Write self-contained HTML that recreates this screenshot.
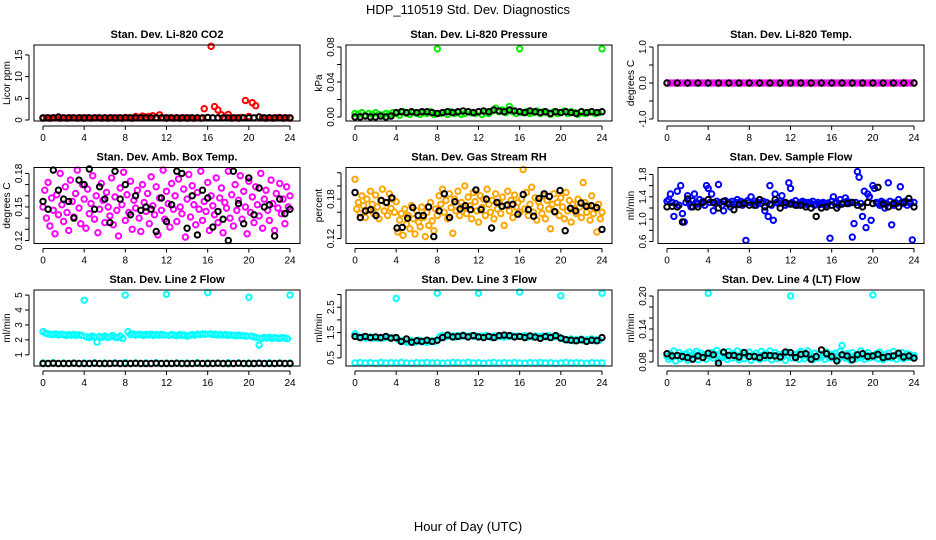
<!DOCTYPE html>
<html><head><meta charset="utf-8"><style>
html,body{margin:0;padding:0;background:#fff;}
svg{display:block;font-family:"Liberation Sans",Arial,sans-serif;}
</style></head><body>
<svg id="chart" width="936" height="540" viewBox="0 0 936 540" xmlns="http://www.w3.org/2000/svg">
<text x="468" y="14" text-anchor="middle" font-size="13">HDP_110519  Std. Dev. Diagnostics</text>
<text x="468" y="531" text-anchor="middle" font-size="13">Hour of Day (UTC)</text>
</svg>
<script>
const xTicks=[0,4,8,12,16,20,24];
const co2Red=[0.4,0.5,0.4,0.5,0.5,0.4,0.5,0.4,0.5,0.5,0.4,0.5,0.4,0.5,0.4,0.5,0.5,0.4,0.5,0.4,0.5,0.4,0.5,0.4,0.6,0.5,0.4,0.8,0.6,0.9,0.7,0.8,1.0,0.6,1.2,0.5,0.4,0.5,0.4,0.5,0.4,0.5,0.4,0.5,0.4,0.5,0.4,2.6,0.6,17,3.1,2.3,1.2,0.5,1.3,0.4,0.5,0.4,0.6,4.5,0.8,4.0,3.3,0.7,0.5,0.4,0.5,0.4,0.5,0.6,0.4,0.5,0.4];
const co2Black=[0.5,0.5,0.5,0.7,0.5,0.5,0.5,0.5,0.5,0.5,0.5,0.5,0.5,0.5,0.5,0.5,0.5,0.5,0.5,0.5,0.5,0.5,0.5,0.5,0.5,0.5,0.5,0.5,0.5,0.5,0.5,0.5,0.6,0.5,0.5,0.5,0.5,0.5,0.5,0.5,0.5,0.5,0.7,0.5,0.5,0.5,0.5,0.5,0.5];
const presGreen=[.004,.003,.005,.002,.004,.003,.005,.003,.002,.004,.003,.005,.004,.002,.006,.004,.003,.005,.004,.003,.005,.004,.006,.003,.078,.004,.005,.003,.006,.004,.005,.003,.004,.006,.005,.004,.006,.003,.005,.004,.007,.010,.006,.008,.005,.012,.006,.004,.078,.005,.006,.004,.005,.007,.004,.006,.005,.003,.006,.004,.005,.007,.004,.006,.005,.003,.006,.004,.005,.006,.004,.005,.078];
const presBlack=[0,0,.001,0,0,.001,0,.001,.005,.006,.005,.006,.005,.006,.006,.005,.004,.005,.006,.005,.006,.007,.006,.005,.006,.007,.006,.008,.007,.006,.008,.007,.006,.005,.007,.006,.005,.006,.004,.006,.005,.006,.005,.004,.006,.005,.006,.005,.006];
const tempMag=[0,0,0,0,0,0,0,0,0,0,0,0,0,0,0,0,0,0,0,0,0,0,0,0,0,0,0,0,0,0,0,0,0,0,0,0,0,0,0,0,0,0,0,0,0,0,0,0,0,0,0,0,0,0,0,0,0,0,0,0,0,0,0,0,0,0,0,0,0,0,0,0,0];
const tempBlack=[0,0,0,0,0,0,0,0,0,0,0,0,0,0,0,0,0,0,0,0,0,0,0,0,0];
const ambMag=[.150,.165,.140,.172,.133,.158,.147,.126,.161,.143,.180,.152,.137,.168,.145,.129,.174,.155,.141,.162,.183,.149,.135,.170,.157,.131,.166,.144,.153,.178,.139,.160,.127,.148,.171,.156,.136,.163,.150,.142,.176,.134,.159,.147,.124,.167,.152,.181,.138,.161,.145,.173,.130,.156,.149,.165,.140,.128,.170,.154,.146,.162,.135,.177,.151,.143,.168,.125,.158,.147,.183,.139,.164,.153,.132,.171,.148,.160,.137,.175,.150,.144,.166,.123,.157,.179,.141,.169,.152,.134,.163,.148,.182,.138,.155,.146,.172,.129,.160,.151,.143,.176,.136,.158,.167,.127,.154,.149,.182,.140,.161,.133,.170,.147,.156,.178,.139,.164,.150,.126,.173,.145,.159,.136,.168,.152,.142,.180,.131,.157,.165,.147,.138,.174,.153,.129,.162,.149,.171,.144,.157,.135,.168,.150,.160];
const ambBlack=[.155,.148,.183,.165,.157,.155,.140,.174,.170,.184,.148,.168,.157,.136,.182,.157,.170,.143,.160,.147,.150,.148,.128,.158,.137,.152,.182,.180,.131,.160,.125,.165,.158,.132,.146,.139,.120,.182,.153,.135,.176,.143,.167,.150,.152,.124,.157,.144,.148];
const rhOrange=[.210,.165,.175,.158,.185,.170,.152,.180,.163,.192,.172,.158,.186,.168,.150,.178,.195,.162,.174,.155,.188,.166,.180,.160,.176,.130,.148,.158,.125,.165,.142,.155,.135,.170,.150,.127,.162,.145,.138,.168,.152,.123,.160,.140,.175,.147,.132,.165,.155,.185,.172,.195,.160,.178,.150,.188,.167,.128,.180,.162,.192,.155,.175,.168,.200,.158,.183,.170,.150,.190,.176,.162,.145,.185,.167,.180,.155,.195,.172,.160,.178,.150,.188,.165,.175,.158,.183,.140,.170,.192,.162,.178,.152,.186,.168,.175,.160,.180,.225,.165,.190,.155,.172,.198,.160,.182,.148,.176,.168,.158,.185,.150,.178,.165,.135,.172,.188,.160,.175,.155,.182,.168,.150,.190,.162,.178,.145,.172,.165,.158,.180,.168,.152,.205,.175,.160,.170,.148,.185,.158,.165,.130,.172,.150,.160];
const rhBlack=[.190,.152,.162,.164,.155,.178,.175,.182,.136,.137,.151,.167,.155,.155,.168,.123,.162,.188,.152,.176,.165,.170,.164,.194,.164,.180,.136,.175,.169,.171,.172,.157,.187,.164,.154,.181,.188,.184,.161,.193,.132,.166,.162,.174,.169,.170,.167,.134];
const flowBlue=[1.32,1.35,1.45,1.30,1.05,1.28,1.50,1.25,1.60,1.10,0.95,1.30,1.42,1.28,1.22,1.33,1.45,1.30,1.27,1.35,1.28,1.32,1.25,1.60,1.55,1.30,1.45,1.15,1.28,1.32,1.62,1.30,1.25,1.15,1.33,1.28,1.30,1.22,1.32,1.27,1.30,1.35,1.28,1.32,1.25,1.30,0.62,1.33,1.30,1.40,1.28,1.32,1.25,1.30,1.35,1.28,1.32,1.15,1.30,1.05,1.60,1.25,0.98,1.45,1.30,1.28,1.32,1.42,1.30,1.25,1.28,1.65,1.55,1.30,1.27,1.33,1.25,1.28,1.30,1.32,1.27,1.30,1.26,1.30,1.28,1.32,1.25,1.27,1.30,1.26,1.28,1.30,1.25,1.27,1.29,0.66,1.32,1.40,1.28,1.30,1.25,1.35,1.28,1.30,1.38,1.32,1.28,1.30,0.68,0.92,1.30,1.85,1.75,1.28,1.05,1.50,0.85,1.45,1.40,0.98,1.60,1.55,1.30,1.28,1.25,1.32,1.30,1.20,1.28,1.65,1.32,0.90,1.25,1.30,1.28,1.35,1.58,1.30,1.28,1.32,1.25,1.30,1.28,0.63,1.30];
const flowBlack=[1.22,1.23,1.22,0.95,1.36,1.22,1.22,1.30,1.35,1.30,1.20,1.32,1.27,1.17,1.26,1.28,1.25,1.25,1.35,1.22,1.27,1.35,1.20,1.30,1.27,1.25,1.25,1.22,1.20,1.05,1.20,1.22,1.25,1.20,1.27,1.28,1.30,1.25,1.22,1.30,1.28,1.57,1.27,1.22,1.28,1.22,1.30,1.37,1.22];
const line2Cyan=[2.55,2.45,2.40,2.38,2.35,2.40,2.33,2.37,2.35,2.30,2.35,2.32,2.36,2.30,2.34,2.30,4.65,2.20,2.15,2.25,2.20,1.85,2.22,2.18,2.25,2.15,2.20,2.30,2.18,2.15,2.25,2.10,5.00,2.55,2.35,2.40,2.32,2.38,2.35,2.30,2.36,2.33,2.38,2.30,2.35,2.32,2.37,2.33,5.05,2.30,2.35,2.32,2.28,2.35,2.30,2.33,2.25,2.30,2.35,2.32,2.38,2.35,2.40,2.38,5.15,2.40,2.35,2.38,2.33,2.36,2.32,2.35,2.30,2.33,2.30,2.28,2.32,2.30,2.28,2.25,4.85,2.25,2.20,2.15,1.65,2.10,2.15,2.12,2.18,2.10,2.15,2.12,2.10,2.15,2.12,2.08,5.00];
const line2CyanLow=[0.45,0.47,0.45,0.46,0.45,0.47,0.45,0.46,0.48,0.45,0.46,0.47,0.45,0.46,0.45,0.47,0.46,0.45,0.47,0.46,0.45,0.46,0.47,0.45,0.46];
const line2Black=[0.42,0.42,0.43,0.42,0.42,0.42,0.43,0.42,0.42,0.42,0.43,0.42,0.42,0.42,0.43,0.42,0.42,0.42,0.43,0.42,0.42,0.42,0.43,0.42,0.42,0.42,0.43,0.42,0.42,0.42,0.43,0.42,0.42,0.42,0.43,0.42,0.42,0.42,0.43,0.42,0.42,0.42,0.43,0.42,0.42,0.42,0.43,0.42,0.42];
const line3Cyan=[1.45,1.35,1.30,1.32,1.28,1.30,1.33,1.28,1.30,1.27,1.30,1.28,1.32,1.30,1.27,1.30,2.85,1.20,1.15,1.18,1.12,1.15,1.18,1.12,1.15,1.20,1.13,1.17,1.12,1.15,1.18,1.14,3.05,1.35,1.38,1.33,1.40,1.35,1.37,1.32,1.38,1.35,1.40,1.36,1.33,1.38,1.35,1.37,3.05,1.36,1.33,1.38,1.35,1.30,1.36,1.33,1.38,1.35,1.32,1.37,1.35,1.38,1.33,1.36,3.10,1.35,1.38,1.32,1.36,1.33,1.37,1.35,1.30,1.36,1.33,1.38,1.35,1.32,1.36,1.34,2.95,1.25,1.22,1.20,1.25,1.18,1.22,1.20,1.24,1.18,1.22,1.20,1.25,1.18,1.22,1.20,3.05];
const line3CyanLow=[0.30,0.32,0.30,0.31,0.29,0.32,0.30,0.31,0.30,0.32,0.30,0.29,0.31,0.30,0.32,0.30,0.31,0.29,0.30,0.32,0.31,0.30,0.33,0.30,0.31,0.29,0.30,0.32,0.30,0.31,0.30,0.32,0.30,0.29,0.31,0.30,0.32,0.30,0.31,0.29,0.30,0.32,0.30,0.31,0.30,0.29,0.31,0.30,0.30];
const line3Black=[1.35,1.30,1.35,1.30,1.33,1.30,1.35,1.28,1.30,1.15,1.25,1.12,1.18,1.15,1.20,1.15,1.20,1.30,1.40,1.33,1.35,1.38,1.33,1.38,1.33,1.30,1.35,1.30,1.38,1.40,1.38,1.33,1.35,1.30,1.37,1.32,1.27,1.35,1.30,1.38,1.28,1.22,1.20,1.18,1.22,1.15,1.20,1.18,1.30];
const line4Cyan=[.090,.085,.095,.088,.100,.082,.092,.097,.086,.093,.089,.095,.083,.098,.091,.087,.094,.099,.084,.092,.096,.088,.093,.085,.205,.090,.097,.087,.094,.101,.083,.092,.088,.096,.090,.085,.099,.093,.087,.095,.089,.100,.084,.092,.097,.086,.094,.090,.098,.083,.092,.088,.096,.091,.085,.099,.093,.087,.095,.089,.100,.084,.092,.097,.086,.094,.090,.088,.096,.083,.098,.092,.200,.087,.093,.089,.095,.085,.099,.091,.086,.094,.100,.088,.092,.084,.096,.090,.087,.095,.089,.093,.085,.098,.091,.087,.094,.088,.096,.090,.085,.099,.110,.092,.087,.095,.089,.083,.097,.091,.086,.094,.088,.100,.090,.085,.093,.097,.087,.092,.202,.089,.095,.086,.098,.091,.084,.093,.088,.096,.090,.087,.099,.092,.085,.094,.089,.097,.086,.091,.095,.088,.093,.090,.092];
const line4Black=[.095,.091,.092,.090,.088,.085,.091,.088,.096,.093,.078,.098,.092,.092,.089,.097,.090,.090,.088,.092,.092,.091,.089,.098,.097,.088,.094,.095,.085,.090,.102,.095,.090,.082,.093,.091,.084,.093,.095,.090,.091,.094,.088,.090,.091,.096,.089,.091,.087];

const panels=[
 {id:'co2',title:'Stan. Dev. Li-820 CO2',ylab:'Licor ppm',r:0,c:0,dom:[-0.23,17.3],ticks:[0,5,10,15],labels:['0','5','10','15'],series:[[co2Red,'#ff0000'],[co2Black,'#000']]},
 {id:'pressure',title:'Stan. Dev. Li-820 Pressure',ylab:'kPa',r:0,c:1,dom:[-0.0046,0.0823],ticks:[0,.02,.04,.06,.08],labels:['0.00','','0.04','','0.08'],series:[[presGreen,'#00ee00'],[presBlack,'#000']]},
 {id:'temp',title:'Stan. Dev. Li-820 Temp.',ylab:'degrees C',r:0,c:2,dom:[-1.056,1.056],ticks:[-1,-0.5,0,0.5,1],labels:['-1.0','','0.0','','1.0'],series:[[tempMag,'#ff00ff'],[tempBlack,'#000']]},
 {id:'amb-temp',title:'Stan. Dev. Amb. Box Temp.',ylab:'degrees C',r:1,c:0,dom:[.1173,.1853],ticks:[.12,.13,.14,.15,.16,.17,.18],labels:['0.12','','','0.15','','','0.18'],series:[[ambMag,'#ff00ff'],[ambBlack,'#000']]},
 {id:'gas-rh',title:'Stan. Dev. Gas Stream RH',ylab:'percent',r:1,c:1,dom:[.1125,.228],ticks:[.12,.14,.16,.18,.20,.22],labels:['0.12','','','0.18','',''],series:[[rhOrange,'#ffa500'],[rhBlack,'#000']]},
 {id:'sample-flow',title:'Stan. Dev. Sample Flow',ylab:'ml/min',r:1,c:2,dom:[.565,1.924],ticks:[.6,.8,1.0,1.2,1.4,1.6,1.8],labels:['0.6','','1.0','','1.4','','1.8'],series:[[flowBlue,'#0000ff'],[flowBlack,'#000']]},
 {id:'line2',title:'Stan. Dev. Line 2 Flow',ylab:'ml/min',r:2,c:0,dom:[0.25,5.34],ticks:[1,2,3,4,5],labels:['1','2','3','4','5'],series:[[line2Cyan,'#00ffff'],[line2CyanLow,'#00ffff'],[line2Black,'#000']]},
 {id:'line3',title:'Stan. Dev. Line 3 Flow',ylab:'ml/min',r:2,c:1,dom:[0.18,3.18],ticks:[.5,1,1.5,2,2.5,3],labels:['0.5','','1.5','','2.5',''],series:[[line3Cyan,'#00ffff'],[line3CyanLow,'#00ffff'],[line3Black,'#000']]},
 {id:'line4',title:'Stan. Dev. Line 4 (LT) Flow',ylab:'ml/min',r:2,c:2,dom:[.0727,.2109],ticks:[.08,.10,.12,.14,.16,.18,.20],labels:['0.08','','','0.14','','','0.20'],series:[[line4Cyan,'#00ffff'],[line4Black,'#000']]}
];
const NS='http://www.w3.org/2000/svg';
const svg=document.getElementById('chart');
function mk(tag,attrs,parent){const e=document.createElementNS(NS,tag);for(const k in attrs)e.setAttribute(k,attrs[k]);(parent||svg).appendChild(e);return e;}
const X0=[43,355,667];
panels.forEach(p=>{
 const g=mk('g',{});
 
 
 const x0=X0[p.c],top=45+p.r*122.5,bot=top+76;
 const xs=h=>x0+h*247/24;
 const ys=v=>bot-(v-p.dom[0])/(p.dom[1]-p.dom[0])*76;
 const left=x0-9,right=x0+257;
 const t=mk('text',{x:(left+right)/2,y:top-7,'text-anchor':'middle','font-size':11,'font-weight':'bold'},g);
 t.textContent=p.title;
 
 
 p.series.forEach((s,si)=>{
  const vals=s[0],col=s[1];
  const sg=mk('g',{fill:'none',stroke:col,'stroke-width':2},g);
  
  
  vals.forEach((v,i)=>{
   const c=mk('circle',{cx:xs(i*24/(vals.length-1)).toFixed(1),cy:ys(v).toFixed(1),r:2.7},sg);
   
   
  });
 });
 const box=mk('rect',{x:left,y:top,width:right-left,height:76,fill:'none',stroke:'#000','stroke-width':1},g);
 
 
 const xa=mk('g',{stroke:'#000','stroke-width':1},g);
 
 
 mk('line',{x1:xs(0),x2:xs(24),y1:bot+5,y2:bot+5},xa);
 xTicks.forEach(h=>{
  mk('line',{x1:xs(h),x2:xs(h),y1:bot+5,y2:bot+9},xa);
  const l=mk('text',{x:xs(h),y:bot+20,'text-anchor':'middle','font-size':10,stroke:'none',fill:'#000'},xa);
  l.textContent=h;
 });
 const ya=mk('g',{stroke:'#000','stroke-width':1},g);
 
 
 mk('line',{x1:left-5,x2:left-5,y1:ys(p.ticks[0]),y2:ys(p.ticks[p.ticks.length-1])},ya);
 p.ticks.forEach((v,i)=>{
  const y=ys(v);
  mk('line',{x1:left-9,x2:left-5,y1:y,y2:y},ya);
  if(p.labels[i]){
   const l=mk('text',{x:left-12,y:y,'text-anchor':'middle','font-size':10,stroke:'none',fill:'#000',transform:`rotate(-90 ${left-12} ${y})`},ya);
   l.textContent=p.labels[i];
  }
 });
 const yl=mk('text',{x:left-24,y:(top+bot)/2,'text-anchor':'middle','font-size':10,transform:`rotate(-90 ${left-24} ${(top+bot)/2})`},g);
 yl.textContent=p.ylab;
 
 
});
</script>
</body></html>
